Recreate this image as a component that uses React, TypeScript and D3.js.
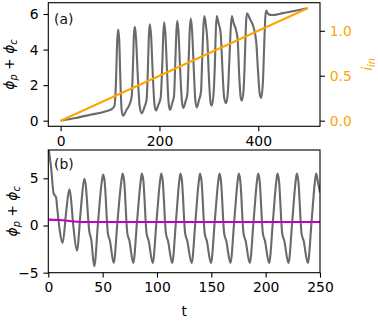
import React, { useEffect, useRef } from 'react';
import * as d3 from 'd3';

// (a) slow ramp of i_in, t from 0 to 500
const rampT = [0, 500];
const rampI = [0, 1.25];

// (a) phi_p + phi_c, [t, value]
const sweepPhi: [number, number][] = [
  [0, 0], [30, 0.15], [60, 0.33], [90, 0.52], [104, 0.66], [109, 0.85], [112, 2.2], [114.5, 4.5], [116.4, 5.13],
  [118.5, 4.6], [121, 2.2], [123.5, 0.6], [126.5, 0.28], [133, 0.6], [140, 0.95], [144, 1.4], [146.5, 3.2],
  [148.5, 4.9], [150.3, 5.28], [152.5, 4.7], [156, 2.6], [160, 0.8], [163.8, 0.41], [170, 0.8], [174, 1.2],
  [176.5, 2.8], [178.8, 4.9], [180.7, 5.42], [183, 4.8], [186.5, 2.6], [190, 0.9], [192.9, 0.57], [198, 0.9],
  [202.5, 1.3], [205.5, 3.0], [208, 5.0], [209.7, 5.53], [212, 4.9], [215.5, 2.7], [218.5, 1.0], [221.3, 0.61],
  [226, 1.0], [229.5, 1.4], [232, 3.2], [234.5, 5.1], [236.1, 5.62], [238.5, 5.0], [242, 2.8], [245.5, 1.1],
  [248.3, 0.72], [253, 1.1], [256.5, 1.5], [259, 3.3], [261.5, 5.2], [263.3, 5.75], [266, 5.1], [269.5, 2.9],
  [272.5, 1.2], [275.5, 0.75], [280, 1.15], [284, 1.6], [286.5, 3.4], [289, 5.3], [290.9, 5.88], [293.5, 5.5],
  [297, 4.5], [300.5, 2.2], [303.5, 1.0], [306, 0.85], [309.5, 1.5], [312, 3.0], [314.3, 5.2], [316, 5.89],
  [319.5, 5.5], [324, 4.9], [327, 3.2], [331, 1.3], [335, 0.98], [338.5, 1.6], [341.5, 3.4], [344.5, 5.3],
  [346.6, 5.89], [350, 5.5], [355, 5.1], [358.5, 4.5], [361.5, 2.5], [364.5, 1.3], [367, 1.13], [370.5, 1.8],
  [373, 3.6], [375.3, 5.5], [377, 6.04], [383.5, 5.7], [390.5, 5.25], [396, 4.4], [399.5, 2.8], [403, 1.5],
  [406, 1.28], [409.5, 2.2], [412, 4.2], [414.3, 5.8], [416, 6.19], [420, 6.0], [428, 5.94], [450, 6.05],
  [475, 6.18], [500, 6.32],
];

// (b) phi_p + phi_c at fixed current, [t, value]
const fixedPhi: [number, number][] = [
  [0, 8.4], [2.5, 6.2], [4.9, 3.4], [7.1, 3.0], [8.5, 1.5], [10.5, -0.5], [13.2, -1.84], [16.5, 1.5],
  [19.3, 3.83], [20.5, 3.2], [23, 0], [26.3, -2.66], [30, 1.8], [33.1, 4.96], [34.3, 4.4], [37.7, -0.6],
  [39.5, -1.5], [42.3, -4.33], [45.8, 0.4], [49.3, 4.7], [50.5, 5.4], [51.8, 4.7], [54.8, -0.8], [56.7, -1.6],
  [60.2, -3.97], [63.7, 0.5], [67.2, 4.7], [68.4, 5.5], [69.7, 4.8], [72.7, -0.8], [74.6, -1.6],
  [78.2, -3.97], [81.7, 0.5], [85.0, 4.7], [86.1, 5.5], [87.4, 4.8], [90.4, -0.8], [92.3, -1.6],
  [96.1, -3.97], [99.6, 0.5], [102.8, 4.7], [103.9, 5.5], [105.2, 4.8], [108.2, -0.8], [110.1, -1.6],
  [114.0, -3.97], [117.5, 0.5], [120.5, 4.7], [121.6, 5.5], [122.9, 4.8], [125.9, -0.8], [127.8, -1.6],
  [131.9, -3.97], [135.4, 0.5], [138.5, 4.7], [139.6, 5.5], [140.9, 4.8], [143.9, -0.8], [145.8, -1.6],
  [149.7, -3.97], [153.2, 0.5], [156.4, 4.7], [157.5, 5.5], [158.8, 4.8], [161.8, -0.8], [163.7, -1.6],
  [167.6, -3.97], [171.1, 0.5], [174.2, 4.7], [175.3, 5.5], [176.6, 4.8], [179.6, -0.8], [181.5, -1.6],
  [185.4, -3.97], [188.9, 0.5], [192.0, 4.7], [193.1, 5.5], [194.4, 4.8], [197.4, -0.8], [199.3, -1.6],
  [203.2, -3.97], [206.7, 0.5], [209.8, 4.7], [210.9, 5.5], [212.2, 4.8], [215.2, -0.8], [217.1, -1.6],
  [221.0, -3.97], [224.5, 0.5], [227.6, 4.7], [228.7, 5.5], [230.0, 4.8], [233.0, -0.8], [234.9, -1.6],
  [238.8, -3.97], [242.3, 0.5], [245.4, 4.7], [246.5, 5.5], [247.8, 4.8], [250, 3.5],
];

// (b) slow variable (magenta)
const fixedSlow: [number, number][] = [
  [0, 0.62], [10, 0.58], [18, 0.5], [26, 0.4], [35, 0.37], [250, 0.37],
];

const topXTicks = [0, 200, 400];
const topYTicks = [0, 2, 4, 6];
const topRightTicks = [0, 0.5, 1.0];
const botXTicks = [0, 50, 100, 150, 200, 250];
const botYTicks = [-5, 0, 5];

const W = 378, H = 325;
const FONT = 'DejaVu Sans, sans-serif';
const FS = 13.9;
const GRAY = '#6a6a6a';
const ORANGE = '#ffa500';
const MAGENTA = '#bf00bf';

const App = () => {
  const ref = useRef<SVGSVGElement>(null);

  useEffect(() => {
    if (!ref.current) return;
    const svg = d3.select(ref.current);
    svg.selectAll('*').remove();

    const L = 48.3, R = 320;
    const aTop = 2.7, aBot = 126.3;
    const bTop = 150, bBot = 272.7;

    const xa = d3.scaleLinear().domain([-25, 525]).range([L, R]);
    const ya = d3.scaleLinear().domain([-0.316, 6.636]).range([aBot, aTop]);
    const ya2 = d3.scaleLinear().domain([-0.0625, 1.3125]).range([aBot, aTop]);
    const xb = d3.scaleLinear().domain([0, 250]).range([L, R]);
    const yb = d3.scaleLinear().domain([-5, 8]).range([bBot, bTop]);

    const defs = svg.append('defs');
    defs.append('clipPath').attr('id', 'clipA')
      .append('rect').attr('x', L).attr('y', aTop).attr('width', R - L).attr('height', aBot - aTop);
    defs.append('clipPath').attr('id', 'clipB')
      .append('rect').attr('x', L).attr('y', bTop).attr('width', R - L).attr('height', bBot - bTop);

    const styleAxis = (g: any, color = '#000') => {
      g.selectAll('path').remove();
      g.selectAll('line').attr('stroke', '#000').attr('stroke-width', 1.1);
      g.selectAll('text').attr('font-family', FONT).attr('font-size', FS).attr('fill', color);
    };

    // ---- panel (a)
    const lineA = d3.line<[number, number]>()
      .x(d => xa(d[0])).y(d => ya(d[1])).curve(d3.curveMonotoneX);
    svg.append('path').datum(sweepPhi)
      .attr('clip-path', 'url(#clipA)')
      .attr('d', lineA).attr('fill', 'none').attr('stroke', GRAY).attr('stroke-width', 2.1)
      .attr('stroke-linejoin', 'round');

    const ramp = d3.line<number>().x((d, i) => xa(rampT[i])).y(d => ya2(d));
    svg.append('path').datum(rampI)
      .attr('d', ramp).attr('fill', 'none').attr('stroke', ORANGE).attr('stroke-width', 2.1);

    svg.append('rect').attr('x', L).attr('y', aTop).attr('width', R - L).attr('height', aBot - aTop)
      .attr('fill', 'none').attr('stroke', '#000').attr('stroke-width', 1.1);

    svg.append('g').attr('transform', `translate(0,${aBot})`)
      .call(d3.axisBottom(xa).tickValues(topXTicks).tickSize(4.9).tickPadding(4.8).tickFormat(d3.format('d')))
      .call(styleAxis);
    svg.append('g').attr('transform', `translate(${L},0)`)
      .call(d3.axisLeft(ya).tickValues(topYTicks).tickSize(4.9).tickPadding(4.8).tickFormat(d3.format('d')))
      .call(styleAxis);
    svg.append('g').attr('transform', `translate(${R},0)`)
      .call(d3.axisRight(ya2).tickValues(topRightTicks).tickSize(4.9).tickPadding(4.8).tickFormat(d3.format('.1f')))
      .call((g: any) => styleAxis(g, ORANGE));

    svg.append('text').attr('x', 54).attr('y', 23.5)
      .attr('font-family', FONT).attr('font-size', FS).attr('fill', '#111').text('(a)');

    const phiLabel = (cx: number, cy: number) => {
      const t = svg.append('text')
        .attr('transform', `translate(${cx},${cy}) rotate(-90)`)
        .attr('text-anchor', 'middle')
        .attr('font-family', FONT).attr('font-size', FS).attr('fill', '#000');
      t.append('tspan').attr('font-style', 'italic').text('ϕ');
      t.append('tspan').attr('font-style', 'italic').attr('font-size', FS * 0.7).attr('dy', 3).text('p');
      t.append('tspan').attr('dy', -3).text(' + ');
      t.append('tspan').attr('font-style', 'italic').text('ϕ');
      t.append('tspan').attr('font-style', 'italic').attr('font-size', FS * 0.7).attr('dy', 3).text('c');
    };
    phiLabel(14, 64.5);

    const iLabel = svg.append('text')
      .attr('transform', `translate(372,${(aTop + aBot) / 2}) rotate(-90)`)
      .attr('text-anchor', 'middle')
      .attr('font-family', FONT).attr('font-size', FS).attr('fill', ORANGE).attr('font-style', 'italic');
    iLabel.append('tspan').text('i');
    iLabel.append('tspan').attr('font-size', FS * 0.7).attr('dy', 3).text('in');

    // ---- panel (b)
    const lineB = d3.line<[number, number]>()
      .x(d => xb(d[0])).y(d => yb(d[1])).curve(d3.curveMonotoneX);
    svg.append('path').datum(fixedPhi)
      .attr('clip-path', 'url(#clipB)')
      .attr('d', lineB).attr('fill', 'none').attr('stroke', GRAY).attr('stroke-width', 2.1)
      .attr('stroke-linejoin', 'round');
    svg.append('path').datum(fixedSlow)
      .attr('clip-path', 'url(#clipB)')
      .attr('d', lineB).attr('fill', 'none').attr('stroke', MAGENTA).attr('stroke-width', 2.1);

    svg.append('rect').attr('x', L).attr('y', bTop).attr('width', R - L).attr('height', bBot - bTop)
      .attr('fill', 'none').attr('stroke', '#000').attr('stroke-width', 1.1);

    svg.append('g').attr('transform', `translate(0,${bBot})`)
      .call(d3.axisBottom(xb).tickValues(botXTicks).tickSize(4.9).tickPadding(4.8).tickFormat(d3.format('d')))
      .call(styleAxis);
    svg.append('g').attr('transform', `translate(${L},0)`)
      .call(d3.axisLeft(yb).tickValues(botYTicks).tickSize(4.9).tickPadding(4.8).tickFormat(d3.format('d')))
      .call(styleAxis);

    svg.append('text').attr('x', 54).attr('y', 169)
      .attr('font-family', FONT).attr('font-size', FS).attr('fill', '#111').text('(b)');

    phiLabel(17, (bTop + bBot) / 2);

    svg.append('text').attr('x', (L + R) / 2).attr('y', 316)
      .attr('text-anchor', 'middle')
      .attr('font-family', FONT).attr('font-size', FS).attr('fill', '#000').text('t');
  }, []);

  return (
    <svg ref={ref} width={W} height={H}
      style={{ position: 'fixed', left: 0, top: 0, background: '#fff' }} />
  );
};

export default App;
